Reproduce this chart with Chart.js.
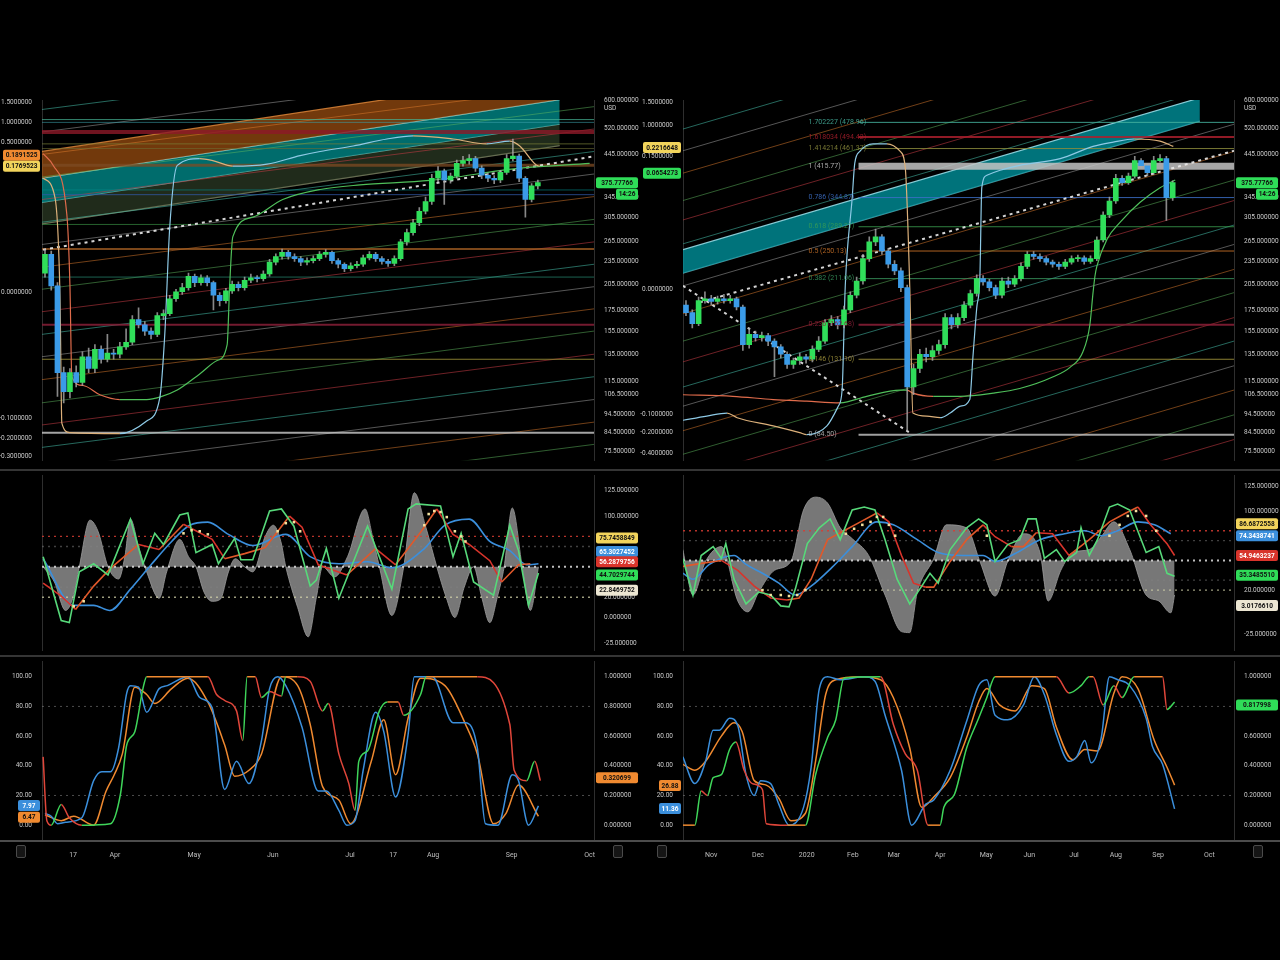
<!DOCTYPE html>
<html>
<head>
<meta charset="utf-8">
<title>ETH/USD — two timeframes</title>
<script src="https://cdn.jsdelivr.net/npm/chart.js@4.4.1/dist/chart.umd.min.js"></script>
<style>
  html, body { margin: 0; padding: 0; background: #000; }
  body { width: 1280px; height: 960px; position: relative; overflow: hidden; }
  canvas { position: absolute; }
  .hline { position: absolute; left: 0; width: 1280px; height: 2px; background: #353535; }
  .icon { position: absolute; top: 845px; width: 8px; height: 11px; border: 1px solid #4a4a4a; border-radius: 2px; background: #151515; }
</style>
</head>
<body>
<canvas id="lt" width="640" height="380" style="left:0;top:90px"></canvas>
<canvas id="rt" width="640" height="380" style="left:640px;top:90px"></canvas>
<canvas id="lm" width="640" height="186" style="left:0;top:470px"></canvas>
<canvas id="rm" width="640" height="186" style="left:640px;top:470px"></canvas>
<canvas id="lb" width="640" height="206" style="left:0;top:656px"></canvas>
<canvas id="rb" width="640" height="206" style="left:640px;top:656px"></canvas>
<div class="hline" style="top:469px"></div>
<div class="hline" style="top:655px"></div>
<div class="hline" style="top:840px;background:#4c4c4c"></div>
<div class="icon" style="left:16px"></div>
<div class="icon" style="left:613px"></div>
<div class="icon" style="left:657px"></div>
<div class="icon" style="left:1253px"></div>
<script>
/* ---------- price axis (shared by both top panes) ---------- */
const priceTicks = [600, 520, 445, 345, 305, 265, 235, 205, 175, 155, 135, 115, 106.5, 94.5, 84.5, 75.5];
const priceTickText = priceTicks.map((v) => (v === 600 ? ["600.000000", "USD"] : v.toFixed(6)));

/* ---------- left column: candles ---------- */
const leftOpen = [219,245,203,121,108,121,114,133,124,139, 131,136,135,141,145,166,161,155,152,170, 172,188,196,201,215,207,213,207,192,186, 197,205,201,210,213,212,218,234,242,248, 242,239,234,236,239,245,248,236,231,225, 229,231,240,245,239,235,232,239,264,279, 296,317,336,386,403,382,391,422,429,434, 410,393,386,382,400,434,441,386,340,369];
const leftClose = [245,203,121,108,121,114,133,124,139,131, 136,135,141,145,166,161,155,152,170,172, 188,196,201,215,207,213,207,192,186,197, 205,201,210,213,212,218,234,242,248,242, 239,234,236,239,245,248,236,231,225,229, 231,240,245,239,235,232,239,264,279,296, 317,336,386,403,382,391,422,429,434,410, 393,386,382,400,434,441,386,340,369,376];
const leftHigh = [252,250,207,125,124,126,137,140,143,142, 152,139,145,157,170,178,164,158,173,176, 192,199,206,219,218,217,216,209,195,200, 209,208,214,218,216,222,238,246,253,251, 246,242,240,243,249,252,250,239,233,233, 235,244,249,248,242,238,243,268,285,302, 324,345,395,414,408,398,430,440,445,440, 416,398,392,405,445,488,446,390,374,382];
const leftLow = [214,198,105,101,104,111,112,121,121,128, 129,131,132,139,143,158,151,148,150,166, 170,185,193,198,202,204,203,176,180,183, 194,197,198,207,208,209,215,230,238,238, 235,229,230,233,236,241,232,226,221,222, 226,228,237,235,231,228,229,236,259,275, 291,312,330,378,330,375,386,415,420,402, 385,378,374,376,395,428,378,306,335,362];

/* overlay curves [candle index, price] */
const leftUpperCurve = [[-0.3,386],[1.6,344],[2.4,192],[2.7,89.5],[4,84.5],[12,84],[16.3,90.6],[18.4,104],[19.2,152],[20,289],[21.2,417],[24.8,434],[26.9,429],[30.1,415],[35.6,420],[40.9,442],[44.1,453],[49.4,468],[54.8,488],[59,497],[65.4,488],[70.8,474],[74.5,482],[76.1,468],[78.8,417],[79.3,415]];
const leftLowerCurve = [[-0.3,447],[1.3,417],[3.5,311],[4,203],[4.3,118],[6.1,112],[8.8,106],[12,103],[16.3,103],[18.4,104.5],[21.2,109],[24.8,120],[27.6,130],[29.2,143],[29.6,203],[30.1,272],[33.3,306],[38.1,340],[44.1,361],[50.5,371],[61.7,381],[76.1,410],[87.3,422]];
const leftTrends = [[[-0.3,252],[88,440]]];
const leftLevels = [548,539,509,474,461,417,360,350,293,253,214,161,131,84.5];
const leftFanStart = [582,509,445,389,340,297,260,227,199,174,152,133,116,101,88.5,77.4,67.7,59.1,51.7,45.2];
const leftFanEnd = [887,775,678,592,518,453,396,346,302,264,231,202,177,155,135,118,103,90,78.8,68.9];
const leftBandEdges = [[453,723],[386,617],[334,533],[294,469]];
const leftOverlayText = ["1.5000000","1.0000000","0.5000000","0.0000000","-0.1000000","-0.2000000","-0.3000000"];
const leftOverlayAt = [606,539,479,195,91.8,81.6,73.3];

/* ---------- right column: candles ---------- */
const rightOpen = [181,173,162,186,188,185,188,186,188,179, 143,152,149,151,146,141,135,127,130,133, 131,139,146,163,166,161,176,192,209,239, 264,272,250,231,222,201,111,124,135,133, 138,143,168,161,168,181,194,212,208,201, 192,209,205,212,228,245,242,239,234,231, 228,234,239,240,235,239,267,310,337,386, 376,391,429,416,399,429,434,344];
const rightClose = [173,162,186,188,185,188,186,188,179,143, 152,149,151,146,141,135,127,130,133,131, 139,146,163,166,161,176,192,209,239,264, 272,250,231,222,201,111,124,135,133,138, 143,168,161,168,181,194,212,208,201,192, 209,205,212,228,245,242,239,234,231,228, 234,239,240,235,239,267,310,337,386,376, 391,429,416,399,429,434,344,376];
const rightHigh = [186,176,190,196,192,191,193,192,190,181, 158,155,154,153,148,143,137,132,136,135, 142,150,166,170,169,180,196,214,245,272, 285,276,254,236,226,204,127,139,140,142, 147,172,171,172,185,198,217,216,211,204, 213,214,216,233,249,249,246,242,237,234, 238,243,244,243,243,272,316,345,395,392, 398,440,434,420,440,445,440,380];
const rightLow = [170,158,160,183,181,182,183,183,176,138, 140,146,146,142,118,132,124,124,127,128, 129,137,144,160,157,158,173,189,205,235, 258,245,226,217,196,85.5,106,121,129,130, 135,140,157,158,165,178,191,204,197,188, 189,201,202,209,225,238,235,230,227,224, 225,231,235,231,232,236,264,305,332,370, 372,386,410,392,395,425,300,338];

const rightUpperCurve = [[-0.5,91],[3.3,93.3],[6.5,95],[8.1,92.4],[13.8,88],[18,84.5],[19.1,83.5],[22.3,88],[24.1,99],[24.7,109],[25.2,203],[26.3,344],[26.7,422],[27.5,453],[29.6,474],[31.8,474],[33.9,453],[34.7,410],[35.4,203],[35.9,95],[38.1,93.3],[40.2,92.4],[41.8,95],[43.4,99],[44.9,103],[45.4,133],[46,178],[46.5,215],[46.8,365],[47.6,393],[49.7,405],[52.8,417],[59.2,434],[64.4,467],[67.6,479],[70.9,488],[75,482],[77.1,467]];
const rightLowerCurve = [[-0.5,106],[7.4,105],[13.8,103],[19.1,102],[24.4,101],[28.6,105],[33.9,109],[35,109],[35.9,107],[39.1,105],[43.4,105],[48.6,107],[52.8,110],[58.1,118],[60.8,125],[62.8,137],[63.9,161],[64.4,195],[64.7,215],[65,228],[66.6,268],[68.7,297],[71.8,334],[75,365],[77.4,382]];
const rightTrends = [[[-0.47,203],[35.4,84.5]], [[2.2,184],[86.7,455]]];
const rightLevels = [539,494,461,415,344,289,250,212,161,131,83.5];
const rightLevelText = ["1.702227 (478.96)","1.618034 (494.42)","1.414214 (461.37)","1 (415.77)","0.786 (344.87)","0.618 (289.21)","0.5 (250.13)","0.382 (211.06)","0.236 (162.68)","0.146 (131.10)","0 (84.50)"];
const rightFanStart = [518,455,398,338,301,261,203,172,146,129,111,99,85.5,74.3,64.2,55.5,47.9,41.4,35.8,30.9];
const rightFanEnd = [1359,1195,1045,887,789,686,533,453,382,338,292,260,224,195,168,146,126,109,94,81.1];
const rightBandEdges = [[252,624],[219,543]];
const rightOverlayText = ["1.5000000","1.0000000","0.1500000","0.0000000","-0.1000000","-0.2000000","-0.4000000"];
const rightOverlayAt = [606,528,441,199,94.4,84.5,74.5];

/* ---------- oscillator pane [index, value] ---------- */
const oscTicks = [125, 100, 20, 0, -25];
const oscLevels = [80, 70, 50, 30, 20];
const leftOscArea = [[-0.3,50],[1.5,35],[3.3,7],[4.5,20],[5.5,50],[7.2,96],[8.5,85],[10.1,50],[11.8,38],[12.8,60],[13.7,97],[15,70],[16.3,45],[18.3,19],[19.5,45],[21.6,77],[23,60],[24.2,50],[25.5,25],[26.8,16],[28.1,18],[29.4,45],[30.5,58],[32,50],[33.3,45],[35.3,80],[36.6,91],[37.8,75],[38.6,50],[40.5,10],[42.2,-19],[43.5,20],[44.5,50],[46.4,40],[48.5,60],[51.3,107],[52.5,80],[53.6,50],[55.6,2],[57.5,50],[59.2,123],[61,90],[62.8,50],[64.3,20],[65.7,0],[67.2,30],[68.7,50],[70,20],[71.3,-5],[72.5,20],[73.6,50],[74.9,108],[76.5,50],[77.8,7],[79.1,50]];
const leftOscGreen = [[-0.3,60],[2.6,-3],[3.9,-5],[5.5,45],[7.8,53],[10.1,42],[13.7,97],[15.7,53],[17.6,83],[19,72],[21.6,101],[22.9,103],[24.2,64],[26.8,72],[27.8,53],[30.4,78],[31.4,57],[33.3,57],[36,105],[37.9,107],[39.9,90],[42.5,31],[43.5,37],[45.1,68],[47.1,19],[51.7,90],[55.6,28],[58.2,107],[59.5,112],[63.4,110],[65.4,60],[66.7,83],[68.7,35],[71.9,22],[74.5,91],[75.9,66],[77.5,12],[79.1,44]];
const leftOscBlue = [[-0.3,58],[4.6,12],[7.8,12],[10.4,7],[13.7,28],[17,52],[20.3,75],[23.2,91],[26.1,94],[29.4,82],[33.3,71],[38.6,82],[42.5,60],[47.1,53],[51.7,55],[55.6,49],[60.8,68],[64.1,91],[68,97],[71.3,75],[74.5,66],[77.2,52],[79.1,53]];
const leftOscRed = [[-0.3,34],[2.6,21],[4.9,8],[7.8,31],[10.4,48],[15,72],[18.3,67],[22.2,92],[26.8,77],[28.8,58],[32,63],[35.3,69],[39.2,100],[41.2,89],[43.8,52],[48.4,42],[53,68],[56.2,52],[60.2,84],[62.8,107],[65.4,82],[68,72],[71.3,56],[73.2,35],[75.9,52],[77.8,53]];
const leftOscDots = [[4.6,11],[6.2,16],[22.2,83],[23.5,86],[24.8,85],[26.1,82],[37.3,85],[38.6,93],[39.9,94],[40.9,85],[60.8,91],[61.5,102],[62.4,105],[63.4,104],[64.4,99],[65.7,85],[66.7,80],[67.4,75]];

const rightOscArea = [[-0.5,61],[1.1,15],[3.1,49],[5.6,64],[8.2,9],[9.8,-2],[11.5,18],[14,40],[16.6,49],[18.6,101],[20.5,114],[22.4,108],[24.4,83],[26.3,72],[28.9,55],[31.5,15],[34.1,-22],[35.4,-23],[36.6,18],[39.2,52],[41.2,86],[44.4,83],[46.5,49],[48.9,14],[50.9,49],[53.4,77],[56,58],[57.3,9],[59.3,40],[61.2,58],[63.8,61],[65.7,74],[67.7,89],[70.2,61],[72.8,15],[74.8,9],[76.7,-3],[77.3,15]];
const rightOscGreen = [[-0.5,52],[1.1,15],[2.4,55],[4.3,64],[5.6,52],[6.3,67],[7.6,31],[9.5,6],[11.5,18],[13.4,15],[15,4],[16.3,3],[17.3,21],[19.2,67],[21.1,83],[22.8,92],[24.4,71],[26.3,101],[28.2,104],[29.9,101],[31.5,71],[33.4,31],[35.4,6],[37.3,24],[38.6,37],[39.9,27],[41.8,61],[44.4,83],[46.3,92],[47.6,86],[48.9,49],[50.9,66],[52.8,71],[54.1,92],[55.4,92],[56.7,52],[58.6,61],[59.9,49],[61.8,58],[62.5,83],[63.8,55],[65.1,71],[67,104],[68.3,107],[70.2,101],[72.8,58],[74.8,64],[76.1,37],[77.3,34]];
const rightOscBlue = [[-0.5,37],[1.1,31],[3.7,46],[7.6,55],[9.5,46],[12.1,37],[14.7,27],[17.3,15],[19.8,24],[23.1,43],[26.3,64],[30.2,89],[32.8,86],[36.6,71],[39.9,58],[43.8,55],[47,55],[48.9,49],[52.1,57],[56,71],[59.9,77],[63.1,80],[65.7,75],[68.3,80],[71.5,89],[74.1,86],[76.7,77]];
const rightOscRed = [[-0.5,44],[2.4,47],[5.6,50],[8.2,40],[10.8,24],[13.4,12],[16,10],[17.9,12],[19.8,31],[22.4,71],[25,80],[27.6,89],[30.2,98],[32.1,89],[34.1,55],[36,27],[37.9,23],[39.2,23],[41.8,49],[44.4,71],[47,86],[48.9,74],[51.5,64],[53.4,64],[55.4,78],[58,77],[60.6,55],[63.8,71],[67,89],[69.6,98],[71.5,104],[73.5,86],[76.1,67],[77.3,55]];
const rightOscDots = [[12.1,20],[13.4,15],[15,15],[16.3,14],[17.6,15],[18.9,20],[25.3,77],[26.6,82],[27.9,86],[29.2,89],[30.2,94],[31.2,94],[32.1,86],[33.1,75],[47.6,75],[67,75],[68.6,86],[69.9,95],[71.2,100],[72.8,95],[74.4,80]];

/* ---------- stochastic pane [index, value] ---------- */
const stochTicks = [100, 80, 60, 40, 20, 0];
const stochLevels = [80, 20];
const leftStochK = [[0,8],[1,6],[2,1],[3.3,2],[5.9,5],[7.8,30],[9.1,36],[10.5,36],[11.8,52],[13.1,89],[13.7,94],[15,93],[16.3,76],[18.3,92],[19.6,94],[22.9,100],[24.8,86],[26.8,79],[28.8,24],[30.7,43],[32.7,28],[34.7,57],[36,92],[37.3,100],[38.6,94],[41.2,66],[43.8,23],[45.1,23],[47.1,10],[48.4,0],[49.7,3],[51,37],[53,76],[54.3,63],[56.2,19],[58.2,61],[59.2,100],[62.1,100],[65.4,69],[67.4,69],[69.3,52],[70.6,1],[72.6,0],[74.9,34],[75.9,30],[77.5,0],[79.1,13]];
const leftStochD = [[0,7],[2.6,3],[4.6,6],[7.8,0],[9.8,23],[11.1,34],[12.4,48],[14.4,93],[16.3,88],[17.6,82],[20.3,92],[22.9,99],[26.1,83],[28.8,54],[30.4,33],[32.7,37],[34.7,48],[37.9,100],[40.5,94],[42.5,68],[44.5,26],[47.1,17],[49,1],[52.3,43],[54.3,71],[56.2,34],[58.2,72],[60.2,99],[64.1,94],[67.4,68],[69.3,48],[71.9,1],[73.9,8],[75.9,27],[79.1,6]];
const leftStochSlow = [[-0.3,46],[0.3,3],[1,0],[2.6,14],[3.9,5],[5.9,0],[10.5,1],[12.1,21],[13.1,54],[14.4,63],[15.7,92],[16.3,100],[26.1,100],[27.5,88],[28.8,84],[30.7,77],[31.7,57],[32.4,100],[33.7,100],[34.7,86],[36,90],[37.9,87],[38.6,100],[40.5,100],[42.5,97],[44.5,77],[45.4,82],[47.1,48],[48.7,28],[49.7,10],[50.3,43],[51.7,50],[53.6,77],[54.9,83],[56.6,83],[57.5,74],[60.2,88],[61.1,100],[69.3,100],[74.5,68],[75.2,37],[77.2,30],[78.5,43],[79.4,30]];
const rightStochK = [[-0.5,46],[1.4,28],[3.1,43],[4.3,64],[5.3,64],[6.9,72],[8.2,67],[9.5,34],[10.8,20],[11.8,30],[13.4,28],[14.7,14],[16.3,0],[18.6,12],[19.8,39],[21.1,92],[22.4,100],[24.4,98],[28.2,100],[29.9,97],[31.5,74],[34.1,37],[35.7,0],[37.9,14],[39.2,17],[41.8,37],[44.4,70],[46.3,94],[47.6,98],[48.9,74],[50.9,71],[53.4,81],[55.1,100],[56.7,88],[58.6,61],[60.6,43],[61.8,46],[63.1,57],[64.1,42],[65.7,59],[67,100],[68.3,98],[70.2,94],[72.8,72],[73.8,53],[75.4,41],[77.3,11]];
const rightStochD = [[-0.5,41],[1.4,37],[3.1,43],[5.6,60],[7.6,69],[8.9,63],[10.8,30],[12.7,27],[14.7,18],[16.6,3],[18.9,8],[20.5,43],[22.1,88],[23.7,98],[27.6,100],[30.8,98],[32.8,86],[35.4,52],[37.3,12],[39.2,19],[41.8,32],[44.4,59],[46.3,83],[47.6,92],[49.6,81],[52.1,77],[54.7,94],[56.7,92],[58.6,66],[61.2,44],[63.1,51],[65.1,50],[67.7,89],[69,100],[71.5,92],[74.1,57],[76.1,39],[77.3,27]];
const rightStochSlow = [[-0.5,0],[1.4,0],[2.4,23],[3.4,20],[4.3,32],[5.6,34],[6.9,51],[7.9,56],[9.2,37],[10.5,28],[12.1,24],[12.7,1],[16,0],[18.9,0],[20.5,34],[22.4,59],[23.7,71],[25,99],[30.8,100],[32.8,68],[34.7,48],[36.6,37],[38.3,0],[40.2,0],[40.8,12],[42.5,21],[44.4,52],[46.3,72],[47.6,86],[48.9,100],[58.6,100],[60.6,89],[62.5,94],[63.8,100],[64.4,100],[66,81],[67.7,94],[69,86],[70.9,100],[75.4,100],[76.1,78],[77.3,83]];

/* ---------- time axis ---------- */
const leftMonthAt = [4.5, 11.2, 23.9, 36.5, 48.9, 55.8, 62.2, 74.8, 87.3];
const leftMonthText = ["17", "Apr", "May", "Jun", "Jul", "17", "Aug", "Sep", "Oct"];
const rightMonthAt = [4.0, 11.4, 19.1, 26.4, 32.9, 40.2, 47.5, 54.3, 61.4, 68.0, 74.7, 82.8];
const rightMonthText = ["Nov", "Dec", "2020", "Feb", "Mar", "Apr", "May", "Jun", "Jul", "Aug", "Sep", "Oct"];

/* ---------- styling ---------- */
Chart.defaults.font.family = "Roboto, 'DejaVu Sans', sans-serif";
Chart.defaults.font.size = 6.5;
Chart.defaults.color = "#c9c9c9";

const UP = "#30de5a", DOWN = "#3b9be8";
const YEL = "#f2d45c", BLU = "#3b8fdc", RED = "#d8342b", GRN = "#2fdc58", CRM = "#ece6d2", ORG = "#f08a30";
const FAN = ["rgba(70,190,170,0.55)", "rgba(215,215,215,0.4)", "rgba(225,125,45,0.5)", "rgba(95,185,95,0.5)", "rgba(200,60,70,0.55)"];
const leftLevelColor = ["rgba(70,180,150,0.75)","rgba(60,160,170,0.6)","rgba(140,25,40,0.8)","rgba(120,125,55,0.7)","rgba(110,110,50,0.6)","rgba(125,75,35,0.75)","rgba(0,140,140,0.6)","rgba(50,90,170,0.75)","rgba(60,150,70,0.65)","rgba(165,95,35,0.75)","rgba(40,140,115,0.7)","rgba(135,30,55,0.85)","rgba(155,145,55,0.85)","rgba(205,205,205,0.8)"];
const leftLevelWidth = [1,1,4,1,1,3,1,1,1,2,1,2,1,2];
const rightLevelColor = ["rgba(70,180,160,0.85)","rgba(170,30,45,0.85)","rgba(140,140,60,0.85)","rgba(195,195,195,0.85)","rgba(60,110,200,0.85)","rgba(60,160,80,0.8)","rgba(205,115,40,0.85)","rgba(60,160,100,0.8)","rgba(140,30,55,0.85)","rgba(165,150,60,0.85)","rgba(200,200,200,0.8)"];
const rightLevelWidth = [1,2,1,7,1,1,1,1,2,1,2];

const pts = (pairs) => pairs.map(([x, y]) => ({ x, y }));
const span = (x0, x1, y0, y1) => [{ x: x0, y: y0 }, { x: x1, y: y1 }];

function line(data, color, extra) {
  return Object.assign({
    type: "line", data, borderColor: color, backgroundColor: color,
    borderWidth: 1, pointRadius: 0, pointHoverRadius: 0, fill: false, tension: 0,
  }, extra || {});
}

function byDirection(up, down, flat) {
  return {
    borderColor: (s) => {
      const a = s.p0.parsed.y, b = s.p1.parsed.y;
      return b > a ? up : b < a ? down : (flat || up);
    },
  };
}

function tagsPlugin(items, notes) {
  return {
    id: "tags",
    afterDatasetsDraw(chart) {
      const { ctx, chartArea: a, width } = chart;
      ctx.save();
      ctx.textBaseline = "middle";
      (notes || []).forEach((n) => {
        const x = chart.scales.x.getPixelForValue(n.x);
        const y = chart.scales.y.getPixelForValue(n.value);
        ctx.font = "7px Roboto, sans-serif";
        ctx.textAlign = "left";
        ctx.fillStyle = n.color;
        ctx.fillText(n.text, x, y);
      });
      (items || []).forEach((t) => {
        const y = chart.scales[t.axis || "y"].getPixelForValue(t.value);
        let x0, w;
        if (t.side === "left") { w = t.w || a.left - 5; x0 = a.left - 2 - w; }
        else { w = t.w || width - a.right - 4; x0 = t.w ? width - 2 - w : a.right + 2; }
        ctx.fillStyle = t.bg;
        ctx.beginPath();
        if (ctx.roundRect) ctx.roundRect(x0, y - 5.5, w, 11, 2); else ctx.rect(x0, y - 5.5, w, 11);
        ctx.fill();
        ctx.font = "bold 6.5px Roboto, sans-serif";
        ctx.textAlign = "center";
        ctx.fillStyle = t.fg || "#111";
        ctx.fillText(t.text, x0 + w / 2, y + 0.5);
      });
      ctx.restore();
    },
  };
}

function fixedAxis(position, width) {
  return {
    position,
    afterFit: (s) => { s.width = width; },
    grid: { display: false },
    border: { display: true, color: "#2e2e2e" },
  };
}

function logAxis(position, width, at, text) {
  return Object.assign(fixedAxis(position, width), {
    type: "logarithmic", min: 71.7, max: 616,
    afterBuildTicks: (s) => { s.ticks = at.map((v) => ({ value: v })); },
    ticks: { autoSkip: false, padding: 2, callback: (v, i) => text[i] },
  });
}

function linAxis(position, width, min, max, at, fmt) {
  return Object.assign(fixedAxis(position, width), {
    type: "linear", min, max,
    afterBuildTicks: (s) => { s.ticks = at.map((v) => ({ value: v })); },
    ticks: { display: !!fmt, autoSkip: false, padding: 2, callback: fmt || (() => "") },
  });
}

function baseOptions(padding, scales) {
  return {
    responsive: false, animation: false, events: [],
    layout: { padding },
    plugins: { legend: { display: false }, tooltip: { enabled: false } },
    scales,
  };
}

function priceChart(id, d) {
  const ds = [];
  const colors = d.close.map((c, i) => (c >= d.open[i] ? UP : DOWN));
  ds.push({ type: "bar", order: 0, grouped: false, barThickness: 5, minBarLength: 1,
    data: d.close.map((c, i) => ({ x: i, y: [d.open[i], c] })), backgroundColor: colors });
  ds.push({ type: "bar", order: 1, grouped: false, barThickness: 1,
    data: d.high.map((h, i) => ({ x: i, y: [d.low[i], h] })), backgroundColor: "rgba(170,170,170,0.8)" });
  ds.push(line(pts(d.upper), "#8ecae6", { order: 2, borderWidth: 1.2, cubicInterpolationMode: "monotone", segment: byDirection("#8ecae6", "#dcb07a") }));
  ds.push(line(pts(d.lower), "#4fbf5a", { order: 2, borderWidth: 1.2, cubicInterpolationMode: "monotone", segment: byDirection("#4fbf5a", "#df6b4b") }));
  d.trends.forEach((t) => ds.push(line(pts(t), "rgba(235,235,235,0.9)", { order: 3, borderWidth: 2, borderDash: [3, 4] })));
  d.levels.forEach((p, k) => ds.push(line(span(d.levelFrom, d.xr[1], p, p), d.levelColor[k], { order: 5, borderWidth: d.levelWidth[k] })));
  d.fanStart.forEach((p, k) => ds.push(line(span(d.xr[0], d.xr[1], p, d.fanEnd[k]), FAN[k % FAN.length], { order: 6 })));
  d.bandEdges.forEach((e, k) => ds.push(line(span(d.xr[0], d.bandEnd, e[0], e[1]), d.bandLine[k], {
    order: 7, borderWidth: 1.2,
    fill: k < d.bandEdges.length - 1 ? "+1" : false,
    backgroundColor: d.bandFill[k] || "rgba(0,0,0,0)",
  })));
  return new Chart(document.getElementById(id), {
    type: "line",
    data: { datasets: ds },
    options: baseOptions({ top: 10, bottom: 2, left: 0, right: 0 }, {
      x: { type: "linear", display: false, min: d.xr[0], max: d.xr[1], offset: false },
      y: logAxis("right", 46, priceTicks, priceTickText),
      yl: logAxis("left", d.leftW, d.overlayAt, d.overlayText),
    }),
    plugins: [tagsPlugin(d.tags, d.notes)],
  });
}

function oscChart(id, d) {
  const ds = [];
  ds.push(line(pts(d.dots), "#f3e2a0", { order: 0, showLine: false, pointRadius: 1.8, pointStyle: "rect", pointBackgroundColor: "#f3e2a0", pointBorderWidth: 0 }));
  ds.push(line(pts(d.green), "#57d97a", { order: 1, borderWidth: 1.6 }));
  ds.push(line(pts(d.red), RED, { order: 2, borderWidth: 1.6, segment: byDirection("#e0582a", RED) }));
  ds.push(line(pts(d.blue), BLU, { order: 3, borderWidth: 1.6, cubicInterpolationMode: "monotone" }));
  const lvColor = ["rgba(215,60,50,0.85)", "rgba(130,130,130,0.5)", "rgba(225,225,225,0.85)", "rgba(130,130,130,0.5)", "rgba(210,210,170,0.75)"];
  oscLevels.forEach((v, k) => ds.push(line(span(d.xr[0], d.xr[1], v, v), lvColor[k], { order: 4, borderWidth: k === 2 ? 2 : 1.3, borderDash: [2, 4] })));
  ds.push(line(pts(d.area), "rgba(150,150,150,0.85)", { order: 6, fill: { value: 50 }, backgroundColor: "rgba(145,145,145,0.82)", cubicInterpolationMode: "monotone" }));
  return new Chart(document.getElementById(id), {
    type: "line",
    data: { datasets: ds },
    options: baseOptions({ top: 2, bottom: 2, left: 0, right: 0 }, {
      x: { type: "linear", display: false, min: d.xr[0], max: d.xr[1], offset: false },
      y: linAxis("right", 46, d.yr[0], d.yr[1], oscTicks, (v) => v.toFixed(6)),
      yl: linAxis("left", d.leftW, d.yr[0], d.yr[1], [], null),
    }),
    plugins: [tagsPlugin(d.tags)],
  });
}

function stochChart(id, d) {
  const ds = [];
  const smooth = { borderWidth: 1.5, cubicInterpolationMode: "monotone" };
  ds.push(line(pts(d.k), BLU, Object.assign({ order: 1 }, smooth)));
  ds.push(line(pts(d.d), ORG, Object.assign({ order: 2 }, smooth)));
  ds.push(line(pts(d.slow), ORG, Object.assign({ order: 0, segment: byDirection("#3fd65a", "#e0463a", ORG) }, smooth)));
  stochLevels.forEach((v) => ds.push(line(span(d.xr[0], d.xr[1], v, v), "rgba(140,140,140,0.55)", { order: 4, borderDash: [2, 4] })));
  return new Chart(document.getElementById(id), {
    type: "line",
    data: { datasets: ds },
    options: baseOptions({ top: 4, bottom: 0, left: 0, right: 0 }, {
      x: {
        type: "linear", min: d.xr[0], max: d.xr[1], offset: false,
        afterBuildTicks: (s) => { s.ticks = d.monthAt.map((v) => ({ value: v })); },
        afterFit: (s) => { s.height = 22; },
        grid: { display: false },
        border: { display: false },
        ticks: { autoSkip: false, maxRotation: 0, padding: 3, color: "#bdbdbd", font: { size: 7 }, callback: (v, i) => d.monthText[i] },
      },
      y: linAxis("right", 46, -10, 110, stochTicks, (v) => (v / 100).toFixed(6)),
      yl: linAxis("left", d.leftW, -10, 110, stochTicks, (v) => v.toFixed(2)),
    }),
    plugins: [tagsPlugin(d.tags)],
  });
}

/* ---------- build panes ---------- */
const LX = [-0.48, 88], RX = [-0.47, 86.7];

priceChart("lt", {
  open: leftOpen, close: leftClose, high: leftHigh, low: leftLow,
  upper: leftUpperCurve, lower: leftLowerCurve, trends: leftTrends,
  levels: leftLevels, levelFrom: LX[0], levelColor: leftLevelColor, levelWidth: leftLevelWidth,
  fanStart: leftFanStart, fanEnd: leftFanEnd,
  bandEdges: leftBandEdges, bandEnd: 82.5,
  bandLine: ["rgba(230,140,60,0.8)", "rgba(150,230,230,0.85)", "rgba(140,210,200,0.7)", "rgba(190,190,150,0.6)"],
  bandFill: ["rgba(190,95,20,0.6)", "rgba(0,150,150,0.72)", "rgba(70,95,60,0.45)"],
  xr: LX, leftW: 42, overlayAt: leftOverlayAt, overlayText: leftOverlayText,
  tags: [
    { side: "right", value: 376, text: "375.77766", bg: GRN },
    { side: "right", value: 351, text: "14:26", bg: GRN, w: 22 },
    { side: "left", axis: "y", value: 443, text: "0.1891525", bg: ORG },
    { side: "left", axis: "y", value: 415, text: "0.1769523", bg: YEL },
  ],
});

priceChart("rt", {
  open: rightOpen, close: rightClose, high: rightHigh, low: rightLow,
  upper: rightUpperCurve, lower: rightLowerCurve, trends: rightTrends,
  levels: rightLevels, levelFrom: 27.3, levelColor: rightLevelColor, levelWidth: rightLevelWidth,
  fanStart: rightFanStart, fanEnd: rightFanEnd,
  bandEdges: rightBandEdges, bandEnd: 81.3,
  bandLine: ["rgba(150,220,230,0.9)", "rgba(120,200,210,0.7)"],
  bandFill: ["rgba(0,160,170,0.72)"],
  xr: RX, leftW: 43, overlayAt: rightOverlayAt, overlayText: rightOverlayText,
  notes: rightLevels.map((p, k) => ({ x: 19.4, value: p, text: rightLevelText[k], color: rightLevelColor[k] })),
  tags: [
    { side: "right", value: 376, text: "375.77766", bg: GRN },
    { side: "right", value: 351, text: "14:26", bg: GRN, w: 22 },
    { side: "left", axis: "y", value: 464, text: "0.2216648", bg: YEL },
    { side: "left", axis: "y", value: 398, text: "0.0654273", bg: GRN },
  ],
});

oscChart("lm", {
  area: leftOscArea, green: leftOscGreen, blue: leftOscBlue, red: leftOscRed, dots: leftOscDots,
  xr: LX, yr: [-32.1, 139.6], leftW: 42,
  tags: [
    { side: "right", value: 78.5, text: "75.7458849", bg: YEL },
    { side: "right", value: 65, text: "65.3027452", bg: BLU, fg: "#fff" },
    { side: "right", value: 55, text: "56.2879756", bg: RED, fg: "#fff" },
    { side: "right", value: 42, text: "44.7029744", bg: GRN },
    { side: "right", value: 27, text: "22.8469752", bg: CRM },
  ],
});

oscChart("rm", {
  area: rightOscArea, green: rightOscGreen, blue: rightOscBlue, red: rightOscRed, dots: rightOscDots,
  xr: RX, yr: [-40.7, 135.5], leftW: 43,
  tags: [
    { side: "right", value: 87, text: "86.6872558", bg: YEL },
    { side: "right", value: 75, text: "74.3438741", bg: BLU, fg: "#fff" },
    { side: "right", value: 55, text: "54.9463237", bg: RED, fg: "#fff" },
    { side: "right", value: 35, text: "35.3485510", bg: GRN },
    { side: "right", value: 4.5, text: "3.0176610", bg: CRM },
  ],
});

stochChart("lb", {
  k: leftStochK, d: leftStochD, slow: leftStochSlow, xr: LX, leftW: 42,
  monthAt: leftMonthAt, monthText: leftMonthText,
  tags: [
    { side: "left", axis: "y", value: 13.3, text: "7.97", bg: BLU, fg: "#fff", w: 22 },
    { side: "left", axis: "y", value: 5.3, text: "6.47", bg: ORG, w: 22 },
    { side: "right", value: 32, text: "0.320699", bg: ORG },
  ],
});

stochChart("rb", {
  k: rightStochK, d: rightStochD, slow: rightStochSlow, xr: RX, leftW: 43,
  monthAt: rightMonthAt, monthText: rightMonthText,
  tags: [
    { side: "left", axis: "y", value: 26.7, text: "26.88", bg: ORG, w: 22 },
    { side: "left", axis: "y", value: 11.3, text: "11.36", bg: BLU, fg: "#fff", w: 22 },
    { side: "right", value: 81, text: "0.817998", bg: GRN },
  ],
});
</script>
</body>
</html>
